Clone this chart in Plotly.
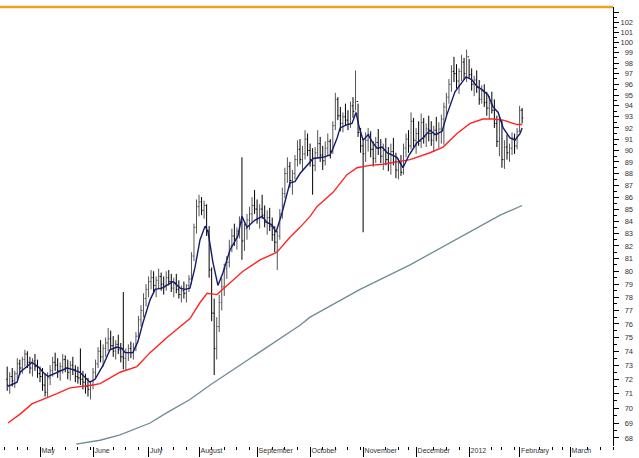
import math
import pandas as pd
import plotly.graph_objects as go

# ---------------- calendar (trading days) ----------------
holidays = ["2011-04-22", "2011-05-30", "2011-07-04", "2011-09-05", "2011-11-24",
            "2011-12-26", "2012-01-02", "2012-01-16", "2012-02-20"]
days = pd.bdate_range("2011-04-01", "2012-04-30")
days = days[~days.isin(pd.to_datetime(holidays))]
origin = days.get_loc(pd.Timestamp("2011-05-02"))
day_index = {d: i - origin for i, d in enumerate(days)}

first_bar = "2011-04-12"

# ---------------- price bars ----------------
open_first = 72.0
high = [72.9, 72.5, 72.8, 72.6, 73.5, 73.4, 73.6, 74.1, 74.0, 73.6, 73.5, 73.8, 73.4,
        72.9, 72.8, 72.4, 72.5, 73.0, 73.6, 73.9, 73.5, 73.2, 73.8, 73.7, 73.4, 73.3, 73.6,
        73.0, 72.9, 74.2, 72.6, 72.4, 72.1, 71.9, 72.8, 73.4, 74.3, 74.8, 74.5, 75.0, 75.7,
        75.5, 75.1, 74.8, 75.2, 74.6, 78.4, 74.2, 74.5, 74.7, 74.6, 75.4, 76.6, 77.4, 78.3,
        79.0, 79.6, 80.1, 80.0, 79.6, 80.2, 79.9, 79.6, 80.0, 80.1, 79.8, 79.5, 79.8, 79.3,
        78.9, 79.2, 79.0, 79.7, 81.5, 83.8, 85.8, 86.2, 86.0, 85.7, 85.4, 83.6, 80.3, 77.9,
        76.5, 78.2, 79.5, 80.6, 81.2, 82.5, 83.4, 83.8, 83.5, 84.4, 89.4, 83.8, 84.6, 85.2,
        86.0, 86.6, 85.8, 85.4, 86.2, 85.3, 84.9, 85.1, 84.3, 83.6, 83.2, 85.0, 86.8, 88.5,
        89.4, 89.0, 88.3, 89.6, 90.9, 91.0, 90.4, 91.8, 91.5, 90.6, 90.2, 90.3, 91.8, 91.2,
        90.4, 90.8, 91.5, 91.0, 92.6, 95.2, 94.8, 93.9, 93.4, 94.2, 93.6, 94.4, 94.8, 97.3,
        94.2, 92.0, 90.9, 91.6, 92.0, 91.7, 90.8, 91.2, 91.9, 91.0, 90.6, 91.1, 90.3, 90.6,
        91.1, 89.8, 89.3, 89.6, 90.6, 91.5, 91.8, 93.4, 92.9, 92.0, 92.6, 93.3, 92.9, 92.4,
        93.1, 92.6, 92.2, 93.0, 92.5, 93.2, 94.3, 95.2, 96.5, 97.8, 98.6, 97.9, 97.5, 98.8,
        98.5, 99.3, 98.4, 97.5, 96.8, 97.3, 96.4, 95.9, 96.0, 95.3, 94.9, 95.3, 94.6, 93.1,
        93.1, 92.7, 90.9, 91.4, 90.6, 91.6, 91.5, 92.0, 94.0, 93.8]
low = [71.2, 71.0, 71.5, 71.4, 72.0, 72.3, 72.4, 72.9, 72.8, 72.4, 72.2, 72.6, 72.1,
       71.8, 71.2, 70.8, 70.7, 71.6, 72.2, 72.6, 72.1, 71.9, 72.4, 72.5, 72.0, 71.9, 72.3,
       71.8, 71.7, 71.6, 71.3, 71.0, 70.8, 70.6, 71.3, 72.1, 72.8, 73.2, 72.9, 73.6, 74.0,
       74.1, 73.6, 73.4, 73.8, 73.2, 72.7, 72.6, 73.3, 73.5, 73.4, 74.0, 74.8, 75.8, 76.5,
       77.3, 78.0, 78.6, 78.4, 78.0, 78.7, 78.5, 78.2, 78.5, 78.9, 78.4, 78.0, 78.3, 77.9,
       77.6, 77.9, 77.6, 78.4, 79.0, 80.8, 83.0, 84.4, 84.5, 84.2, 82.8, 79.5, 76.2, 72.3,
       73.4, 75.4, 77.0, 78.1, 79.4, 80.3, 81.5, 82.0, 81.7, 82.6, 80.9, 81.6, 82.5, 83.3,
       83.9, 84.6, 83.8, 83.4, 84.2, 83.5, 82.9, 83.2, 82.4, 81.5, 80.1, 82.5, 84.2, 85.9,
       87.2, 86.8, 86.2, 87.5, 88.6, 88.8, 88.2, 89.2, 89.5, 88.6, 86.2, 88.2, 89.3, 89.0,
       88.3, 88.7, 89.5, 89.3, 89.7, 91.8, 92.7, 91.7, 91.6, 92.2, 91.8, 92.0, 92.9, 93.6,
       91.2, 89.8, 83.1, 89.0, 89.9, 89.4, 88.6, 88.9, 89.6, 88.9, 88.3, 88.7, 88.2, 87.9,
       88.7, 87.6, 87.5, 87.8, 87.9, 89.4, 89.8, 90.1, 90.3, 89.7, 90.4, 90.2, 90.6, 90.3,
       90.8, 90.4, 89.9, 90.8, 90.2, 90.6, 90.5, 93.0, 94.2, 95.3, 96.2, 95.6, 95.1, 96.3,
       96.4, 96.2, 96.5, 95.4, 94.9, 95.2, 94.1, 94.2, 93.9, 93.1, 92.8, 93.3, 92.0, 90.3,
       89.5, 88.5, 88.4, 89.2, 89.0, 89.6, 89.7, 90.1, 91.6, 92.4]
close = [71.6, 72.2, 71.9, 72.4, 73.1, 72.8, 73.4, 73.8, 73.2, 72.8, 73.3, 72.9, 72.4,
         72.2, 71.6, 71.1, 72.1, 72.6, 73.2, 73.0, 72.6, 72.9, 73.4, 72.8, 72.5, 73.0, 72.7,
         72.2, 72.1, 72.0, 71.8, 71.5, 71.3, 71.6, 72.5, 73.1, 74.0, 73.6, 74.2, 74.6, 74.9,
         74.4, 74.0, 74.5, 74.1, 73.6, 73.5, 73.9, 74.2, 73.9, 74.3, 75.1, 76.3, 77.0, 77.9,
         78.6, 79.2, 79.5, 78.9, 79.3, 79.6, 79.0, 78.8, 79.5, 79.2, 78.7, 79.1, 78.6, 78.2,
         78.5, 78.3, 78.9, 79.4, 81.2, 83.5, 85.2, 85.6, 84.9, 85.3, 83.2, 80.1, 76.8, 74.2,
         75.8, 77.6, 78.8, 80.2, 80.7, 82.0, 82.8, 82.6, 83.2, 83.9, 82.4, 83.4, 84.1, 84.6,
         85.3, 85.0, 84.2, 85.0, 84.5, 83.9, 84.3, 83.6, 82.9, 82.3, 82.8, 84.6, 86.3, 88.0,
         88.6, 87.4, 88.0, 89.2, 90.1, 89.2, 89.7, 91.0, 90.0, 89.2, 88.7, 89.8, 90.6, 89.6,
         89.1, 90.2, 90.8, 89.9, 92.2, 94.6, 93.1, 92.4, 93.0, 92.7, 92.3, 94.0, 93.5, 94.4,
         91.6, 90.4, 89.7, 90.9, 91.4, 90.1, 89.3, 90.7, 90.2, 89.5, 90.0, 89.2, 88.9, 89.9,
         89.0, 88.3, 88.9, 88.1, 90.2, 91.0, 90.4, 92.6, 90.9, 91.5, 90.8, 92.5, 91.2, 91.9,
         91.5, 90.9, 91.8, 91.4, 91.9, 92.8, 93.9, 94.8, 96.0, 97.2, 97.0, 96.3, 97.2, 98.1,
         97.0, 98.6, 96.9, 96.0, 96.4, 95.7, 94.6, 95.4, 94.3, 93.8, 94.2, 93.6, 92.4, 90.8,
         92.6, 89.2, 90.3, 89.8, 90.2, 91.1, 90.4, 91.7, 93.6, 92.9]

# ---------------- moving averages (x = trading-day index) ----------------
ma_short_x = [-12.7, -9.1, -7.9, -3.2, -0.8, 1.2, 3.2, 6.7, 10.7, 12.7, 15.8, 19.8, 21.8, 25,
              27.7, 30.5, 32.5, 33.7, 36.8, 38.8, 40.8, 43.6, 45.6, 48.3, 52.7, 55.5, 57.4,
              59.4, 61.4, 63.4, 65.4, 66.6, 68.5, 70.5, 72.5, 75.3, 78.4, 80, 82, 85.2, 88,
              89.9, 91.9, 93.5, 95.9, 99, 101, 103, 105.8, 108.2, 112.1, 114.9, 116.1, 117.7,
              118.9, 121.6, 123.6, 125.2, 126.4, 128, 130, 131.5, 133.5, 135.5, 137.5, 141.4,
              143.8, 146.2, 149.4, 151.7, 154.5, 156.5, 159.3, 161.2, 164.4, 166.4, 168.8,
              171.2, 173.1, 175.1, 177.5, 179.5, 181.5, 183.5, 186.2, 188.2, 190.2, 191]
ma_short = [71.5, 71.8, 72.5, 73.2, 72.9, 72.5, 72.2, 72.5, 72.8, 72.7, 72.5, 71.8, 72.0, 73.0,
            74.1, 74.3, 74.2, 73.9, 73.9, 74.7, 76.1, 77.8, 78.6, 78.7, 79.2, 78.7, 78.6,
            78.7, 80.3, 82.5, 83.6, 83.1, 80.7, 78.9, 79.9, 81.7, 82.8, 84.4, 83.5, 84.1, 84.4,
            83.9, 83.7, 83.1, 84.7, 87.2, 87.3, 88.0, 88.7, 89.3, 89.4, 89.6, 90.2, 91.1,
            92.0, 92.3, 92.4, 93.4, 92.1, 90.9, 91.4, 90.8, 90.2, 90.3, 89.8, 89.4,
            88.5, 89.6, 90.7, 91.1, 91.8, 91.4, 91.7, 93.2, 95.3, 95.9, 96.7,
            96.4, 95.8, 95.5, 95.0, 93.9, 93.4, 92.0, 91.1, 90.9, 91.5, 92.0]
ma_mid_x = [-12.7, -7.9, -3.2, 1.2, 6.7, 11.9, 17, 21, 23.8, 27.7, 31.7, 38.4, 43.6, 50.3,
            55.5, 59.4, 63.4, 66.2, 70.1, 74.1, 80.4, 87.2, 93.9, 99, 103, 107, 109.7, 116.1,
            121.6, 125.6, 130.7, 135.9, 141.4, 146.6, 154.5, 159.7, 165.2, 170.4, 175.5,
            179.5, 183.5, 189, 191]
ma_mid = [69.0, 69.6, 70.3, 70.6, 71.0, 71.4, 71.5, 71.6, 71.7, 72.1, 72.5, 72.9, 73.9, 75.0,
          75.8, 76.4, 77.6, 78.3, 78.2, 78.9, 80.0, 80.9, 81.5, 82.7, 83.5, 84.4, 85.2, 86.4,
          87.9, 88.5, 88.7, 88.8, 89.0, 89.2, 89.8, 90.3, 91.5, 92.4, 92.8,
          92.8, 92.7, 92.3, 92.3]
ma_long_x = [14.3, 23.8, 31.7, 39.6, 43.6, 50.3, 59.4, 67.4, 103, 107, 126.8, 146.6, 166.4,
             182.3, 191]
ma_long = [67.6, 67.85, 68.2, 68.7, 69.0, 69.7, 70.6, 71.6, 75.9, 76.5, 78.6, 80.5, 82.7,
           84.5, 85.3]

# ---------------- axis labels ----------------
month_starts = ["2011-05-01", "2011-06-01", "2011-07-01", "2011-08-01", "2011-09-01",
                "2011-10-01", "2011-11-01", "2011-12-01", "2012-01-01", "2012-02-01",
                "2012-03-01"]
month_labels = ["May", "June", "July", "August", "September", "October", "November",
                "December", "2012", "February", "March"]
price_ticks = list(range(68, 104))

# ---------------- derived positions ----------------
start = day_index[pd.Timestamp(first_bar)]
bar_x = list(range(start, start + len(close)))
opens = [open_first] + close[:-1]

month_x = []
for m in month_starts:
    d = days[days >= pd.Timestamp(m)][0]
    month_x.append(day_index[d])

week_x = []
prev_week = None
for d in days:
    wk = (d - pd.Timedelta(days=d.weekday()))
    if wk != prev_week:
        prev_week = wk
        i = day_index[d]
        if i in month_x:
            continue
        near = [m for m in month_x if 0 < i - m < 5]
        if near:
            continue
        week_x.append(i)

xmin, xmax = -15.85, 227.0

fig = go.Figure()
fig.add_trace(go.Scatter(x=ma_long_x, y=ma_long, mode="lines",
                         line=dict(color="#6f8c94", width=1.3), hoverinfo="skip"))
fig.add_trace(go.Scatter(x=ma_mid_x, y=ma_mid, mode="lines",
                         line=dict(color="#ff2424", width=1.4), hoverinfo="skip"))
fig.add_trace(go.Ohlc(x=bar_x, open=opens, high=high, low=low, close=close,
                      increasing=dict(line=dict(color="#555555", width=1)),
                      decreasing=dict(line=dict(color="#000000", width=1)),
                      tickwidth=0.4, hoverinfo="skip"))
fig.add_trace(go.Scatter(x=ma_short_x, y=ma_short, mode="lines",
                         line=dict(color="#141a6e", width=1.4), hoverinfo="skip"))

ylo, yhi = 67.47, 103.51
fig.update_layout(
    width=639, height=458,
    margin=dict(l=0, r=26, t=7, b=12),
    paper_bgcolor="white", plot_bgcolor="white",
    showlegend=False,
    font=dict(family="Liberation Sans, Arial, sans-serif", size=8, color="#333333"),
    xaxis=dict(range=[xmin, xmax], showgrid=False, zeroline=False, showline=False,
               rangeslider=dict(visible=False),
               tickmode="array", tickvals=month_x, ticktext=month_labels,
               ticks="outside", ticklen=10, tickwidth=1, tickcolor="#000000",
               ticklabelposition="outside right", ticklabelstandoff=-2, ticklabelshift=1,
               tickfont=dict(size=7, color="#333333"),
               minor=dict(tickmode="array", tickvals=week_x, ticks="outside", ticklen=3,
                          tickwidth=1, tickcolor="#000000", showgrid=False)),
    yaxis=dict(type="log", range=[math.log10(ylo), math.log10(yhi)], side="right",
               showgrid=False, zeroline=False, showline=True, linecolor="#000000",
               linewidth=1, ticks="outside", ticklen=5, tickcolor="#000000",
               tickmode="array", tickvals=price_ticks,
               ticktext=[("" if v > 102 else (str(v) if v >= 100 else "\u2007" + str(v)))
                         for v in price_ticks],
               tickfont=dict(size=7.5, color="#333333"),
               minor=dict(tickmode="array", tickvals=[v + 0.5 for v in price_ticks[:-1]],
                          ticks="outside", ticklen=3, tickcolor="#000000", showgrid=False)),
    shapes=[dict(type="line", xref="paper", yref="paper", x0=0, x1=1, y0=1, y1=1,
                 line=dict(color="#f0a020", width=2.5))],
)
fig.write_html("out.html")
